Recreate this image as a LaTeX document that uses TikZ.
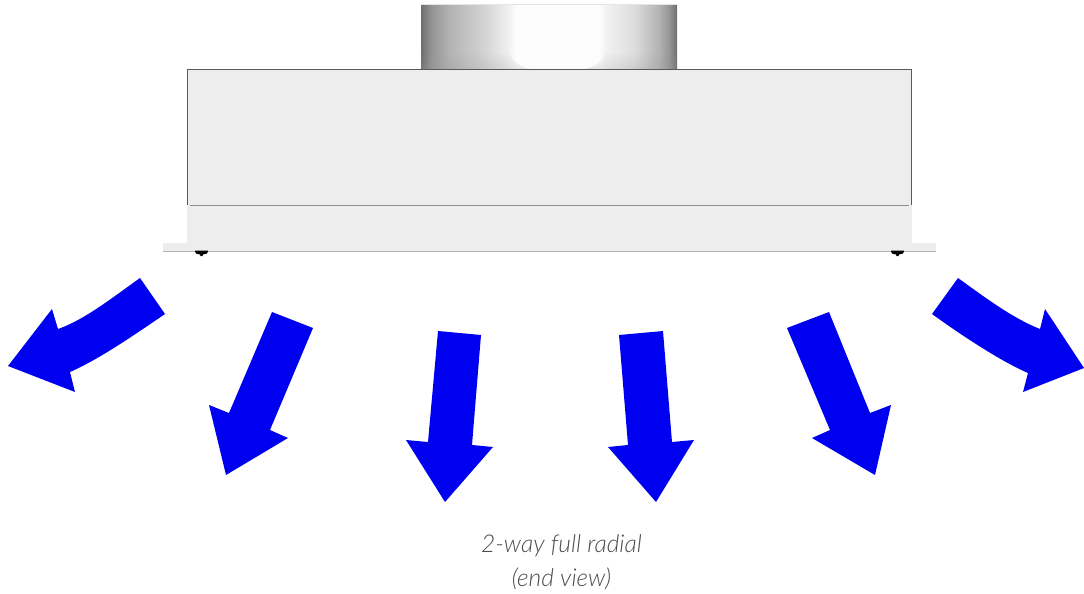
\documentclass[tikz,border=0pt]{standalone}
\usepackage{fontspec}
\setmainfont{Lato Light}[ItalicFont={Lato Light Italic}]
\usetikzlibrary{fadings}
\pgfdeclarehorizontalshading{ductshade}{100bp}{
 color(0bp)=(black!57);
 color(25bp)=(black!57);
 color(27bp)=(black!42);
 color(30.5bp)=(black!30);
 color(37bp)=(black!18);
 color(42bp)=(black!6);
 color(43.5bp)=(black!1);
 color(60bp)=(black!1);
 color(61bp)=(black!5);
 color(66.5bp)=(black!13);
 color(71.5bp)=(black!30);
 color(73.5bp)=(black!42);
 color(75bp)=(black!57);
 color(100bp)=(black!57)}
\tikzfading[name=upfade, bottom color=transparent!78, top color=transparent!100]
\definecolor{housing}{HTML}{EDEDED}
\definecolor{flow}{HTML}{0000F0}
\tikzset{
 flowarrow/.style={fill=flow,draw=none},
 body/.style={fill=housing,draw=none},
 edge line/.style={draw=black!65,line width=0.9pt},
 seam/.style={draw=black!45,line width=0.8pt},
 screw/.style={fill=black,draw=none}
}
\begin{document}
\begin{tikzpicture}[x=1pt,y=-1pt]
\useasboundingbox (0,0) rectangle (1084,594);
% duct
\shade[shading=ductshade] (421,5.5) rectangle (677,69);
\fill[black!40,path fading=upfade] (421,52) -- (508,52) .. controls (514,62) and (518,67) .. (530,69) -- (421,69) -- cycle;
\fill[black!40,path fading=upfade] (677,52) -- (606,52) .. controls (602,62) and (596,67) .. (584,69) -- (677,69) -- cycle;
\draw[black!10,line width=1pt] (421,5) -- (677,5);
% housing
\fill[body] (187,69) rectangle (912,243);
\fill[body] (163,243) rectangle (936,251);
\draw[edge line] (187,69) -- (911,69);
\draw[edge line] (187.5,69) -- (187.5,205);
\draw[edge line] (911,69) -- (911,205);
\draw[seam] (190,205.5) -- (909,205.5);
\draw[seam,draw=black!30] (163,251) -- (936,251);
\fill[screw] (195,250.5) -- (208,250.5) .. controls (208,254) and (205,254.5) .. (203,254.5) -- (202.5,256) -- (200.5,256) -- (200,254.5) .. controls (198,254.5) and (195,254) .. (195,250.5) -- cycle;
\fill[screw] (891,250.5) -- (904,250.5) .. controls (904,254) and (901,254.5) .. (899,254.5) -- (898.5,256) -- (896.5,256) -- (896,254.5) .. controls (894,254.5) and (891,254) .. (891,250.5) -- cycle;
% arrows
\fill[flowarrow] (140,278) -- (165,314) .. controls (140,331) and (100,359) .. (70,372) -- (75,392) -- (8,366) -- (52,309) -- (58,329) .. controls (84,320) and (112,298) .. (140,278) -- cycle;
\fill[flowarrow] (272,312) -- (313,328) -- (270,430) -- (288,438) -- (226,475) -- (209,405) -- (229,413) -- cycle;
\fill[flowarrow] (438,331) -- (481,335) -- (472,445) -- (493,447) -- (445,502) -- (406,440) -- (428,442) -- cycle;
\fill[flowarrow] (619,335) -- (663,331) -- (672,442) -- (694,440) -- (656,502) -- (608,447) -- (628,445) -- cycle;
\fill[flowarrow] (787,328) -- (829,312) -- (870,413) -- (891,405) -- (875,475) -- (812,438) -- (830,430) -- cycle;
\fill[flowarrow] (958,278) .. controls (983,296) and (1012,318) .. (1040,329) -- (1045,309) -- (1084,368) -- (1023,392) -- (1028,373) .. controls (998,360) and (957,332) .. (932,314) -- cycle;
% caption
\node[text=black!70,font=\fontsize{24.5}{34.5}\selectfont\itshape,align=center,anchor=center] (caption) at (561.5,562) {2-way full radial\\(end view)};
\end{tikzpicture}
\end{document}
